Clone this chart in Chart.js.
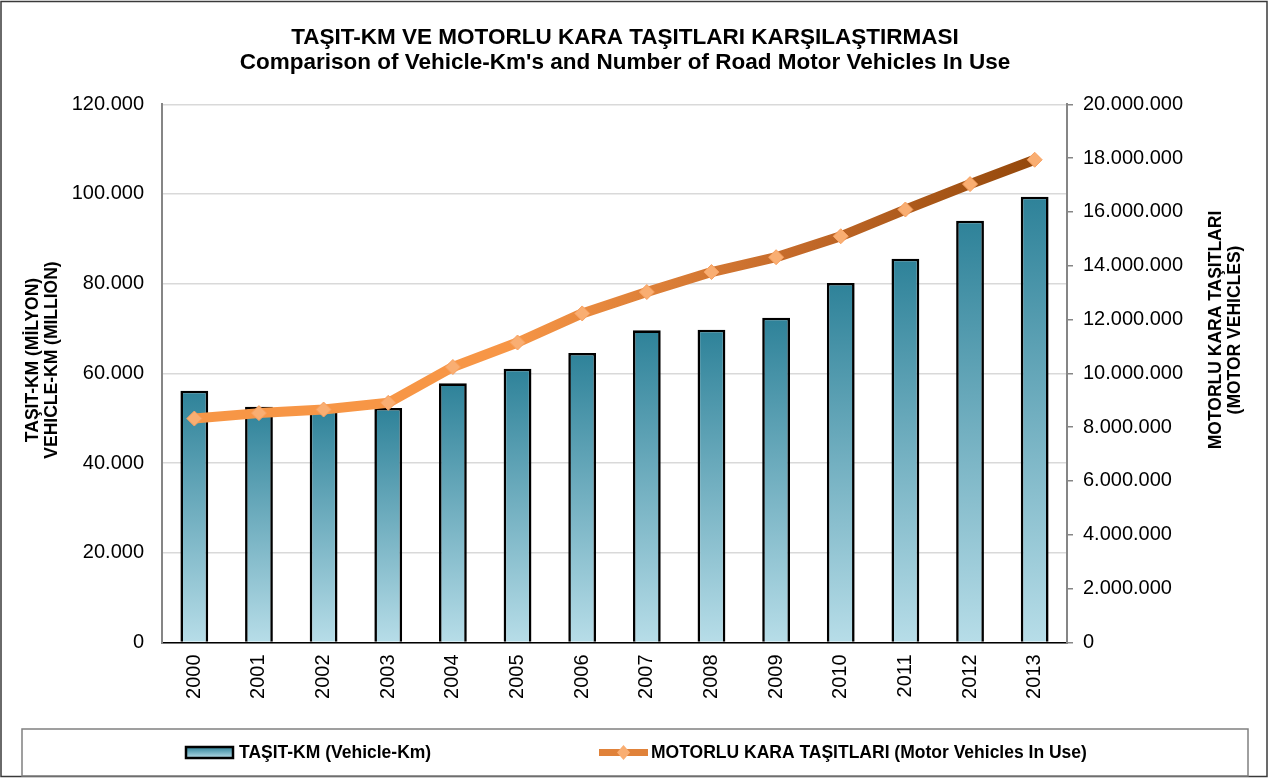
<!DOCTYPE html>
<html>
<head>
<meta charset="utf-8">
<script src="https://cdn.jsdelivr.net/npm/chart.js@4.4.1/dist/chart.umd.min.js"></script>
<style>
    html, body { margin: 0; padding: 0; background: #fff; }
    #wrap { width: 1269px; height: 778px; position: relative; }
</style>
</head>
<body>
<div id="wrap"><canvas id="kmChart" width="1269" height="778"></canvas></div>
<script>
// Years on the x axis
const years = ['2000', '2001', '2002', '2003', '2004', '2005', '2006', '2007', '2008', '2009', '2010', '2011', '2012', '2013'];
// Vehicle-km (million), left axis
const vehicleKm = [56130, 52560, 52400, 52270, 57780, 61040, 64540, 69600, 69730, 72410, 80150, 85570, 94040, 99390];
// Motor vehicles in use, right axis
const motorVehicles = [8320449, 8521956, 8655170, 8903843, 10236357, 11145826, 12227393, 13022945, 13765395, 14316700, 15095603, 16089528, 17033413, 17939447];

const titleLines = ['TAŞIT-KM VE MOTORLU KARA TAŞITLARI KARŞILAŞTIRMASI', "Comparison of Vehicle-Km's and Number of Road Motor Vehicles In Use"];
const leftTitle = ['TAŞIT-KM (MİLYON)', 'VEHICLE-KM (MILLION)'];
const rightTitle = ['MOTORLU KARA TAŞITLARI', '(MOTOR VEHICLES)'];
const legendLabels = ['TAŞIT-KM (Vehicle-Km)', 'MOTORLU KARA TAŞITLARI (Motor Vehicles In Use)'];

const FONT = "'Liberation Sans', Arial, sans-serif";

function dotted(v) {
    return String(v).replace(/\B(?=(\d{3})+(?!\d))/g, '.');
}

function lineGradient(chart) {
    const ca = chart.chartArea;
    const g = chart.ctx.createLinearGradient(ca.left, 0, ca.right, 0);
    g.addColorStop(0, '#F79646');
    g.addColorStop(0.38, '#F79646');
    g.addColorStop(0.7, '#C46A2A');
    g.addColorStop(1, '#8E4407');
    return g;
}

// titles, axis titles, legend box and outer frame
const decorations = {
    id: 'decorations',
    afterDraw(chart) {
        const ctx = chart.ctx;
        ctx.save();

        // frame
        ctx.strokeStyle = '#3a3a3a';
        ctx.lineWidth = 1.5;
        ctx.strokeRect(1, 1.5, 1266, 775);

        // chart title
        ctx.fillStyle = '#000';
        ctx.textAlign = 'center';
        ctx.textBaseline = 'middle';
        ctx.font = 'bold 22.5px ' + FONT;
        ctx.fillText(titleLines[0], 625, 38);
        ctx.fillText(titleLines[1], 625, 63);

        // axis titles
        ctx.font = 'bold 17.5px ' + FONT;
        [[leftTitle, 33, 360], [rightTitle, 1216, 330]].forEach(function(t) {
            ctx.save();
            ctx.translate(t[1], t[2]);
            ctx.rotate(-Math.PI / 2);
            ctx.fillText(t[0][0], 0, 0);
            ctx.fillText(t[0][1], 0, 19.5);
            ctx.restore();
        });

        // legend box
        ctx.strokeStyle = '#808080';
        ctx.lineWidth = 1.5;
        ctx.strokeRect(22, 729, 1226, 47);

        // bar swatch
        const sg = ctx.createLinearGradient(0, 747, 0, 758);
        sg.addColorStop(0, '#2E8299');
        sg.addColorStop(1, '#B7DDE8');
        ctx.fillStyle = sg;
        ctx.fillRect(186, 747, 47, 11);
        ctx.strokeStyle = '#000';
        ctx.lineWidth = 2.5;
        ctx.strokeRect(186, 747, 47, 11);

        // line swatch
        ctx.strokeStyle = '#E0823A';
        ctx.lineWidth = 7;
        ctx.beginPath();
        ctx.moveTo(599, 752.5);
        ctx.lineTo(648, 752.5);
        ctx.stroke();
        ctx.fillStyle = '#F9AE72';
        ctx.beginPath();
        ctx.moveTo(623.5, 745);
        ctx.lineTo(630, 752.5);
        ctx.lineTo(623.5, 760);
        ctx.lineTo(617, 752.5);
        ctx.closePath();
        ctx.fill();

        ctx.fillStyle = '#000';
        ctx.textAlign = 'left';
        ctx.font = 'bold 17.5px ' + FONT;
        ctx.fillText(legendLabels[0], 239, 753);
        ctx.fillText(legendLabels[1], 651, 753);

        ctx.restore();
    }
};

const ctx = document.getElementById('kmChart').getContext('2d');
const kmChart = new Chart(ctx, {
    type: 'bar',
    data: {
        labels: years,
        datasets: [{
            type: 'line',
            label: legendLabels[1],
            data: motorVehicles,
            yAxisID: 'y1',
            order: 0,
            borderColor: function(c) {
                if (!c.chart.chartArea) return '#F79646';
                return lineGradient(c.chart);
            },
            borderWidth: 10,
            borderJoinStyle: 'round',
            borderCapStyle: 'round',
            tension: 0,
            fill: false,
            pointStyle: 'rectRot',
            pointRadius: 7.5,
            pointBackgroundColor: '#F9AE72',
            pointBorderColor: '#F7A060',
            pointBorderWidth: 1
        }, {
            type: 'bar',
            label: legendLabels[0],
            data: vehicleKm,
            yAxisID: 'y',
            order: 1,
            backgroundColor: function(c) {
                const chart = c.chart;
                if (!chart.chartArea || c.type !== 'data') return '#31859C';
                const y = chart.scales.y;
                const top = y.getPixelForValue(c.parsed.y);
                const base = y.getPixelForValue(0);
                const g = chart.ctx.createLinearGradient(0, top, 0, base);
                g.addColorStop(0, '#2E8299');
                g.addColorStop(1, '#B7DDE8');
                return g;
            },
            borderColor: '#000',
            borderWidth: 2.6,
            categoryPercentage: 1,
            barPercentage: 0.43
        }]
    },
    options: {
        responsive: false,
        animation: false,
        layout: { padding: { top: 104.3, left: 0, right: 0, bottom: 0 } },
        plugins: {
            legend: { display: false },
            title: { display: false },
            tooltip: { enabled: false }
        },
        scales: {
            x: {
                grid: { display: false, drawTicks: false },
                border: { display: true, color: '#000', width: 1.5 },
                ticks: {
                    color: '#000',
                    font: { family: FONT, size: 20 },
                    minRotation: 90,
                    maxRotation: 90,
                    autoSkip: false,
                    padding: 12
                },
                afterFit: function(s) { s.height = 135.6; }
            },
            y: {
                position: 'left',
                min: 0,
                max: 120000,
                grid: { color: '#D9D9D9', lineWidth: 1.5, drawTicks: false },
                border: { display: true, color: '#868686', width: 2 },
                ticks: {
                    stepSize: 20000,
                    color: '#000',
                    font: { family: FONT, size: 20 },
                    padding: 18,
                    callback: function(v) { return dotted(v); }
                },
                afterFit: function(s) { s.width = 162; }
            },
            y1: {
                position: 'right',
                min: 0,
                max: 20000000,
                grid: { drawOnChartArea: false, drawTicks: true, tickLength: 6, color: '#868686', lineWidth: 1.5 },
                border: { display: true, color: '#868686', width: 2 },
                ticks: {
                    stepSize: 2000000,
                    color: '#000',
                    font: { family: FONT, size: 20 },
                    padding: 10,
                    callback: function(v) { return dotted(v); }
                },
                afterFit: function(s) { s.width = 202; }
            }
        }
    },
    plugins: [decorations]
});
</script>
</body>
</html>
